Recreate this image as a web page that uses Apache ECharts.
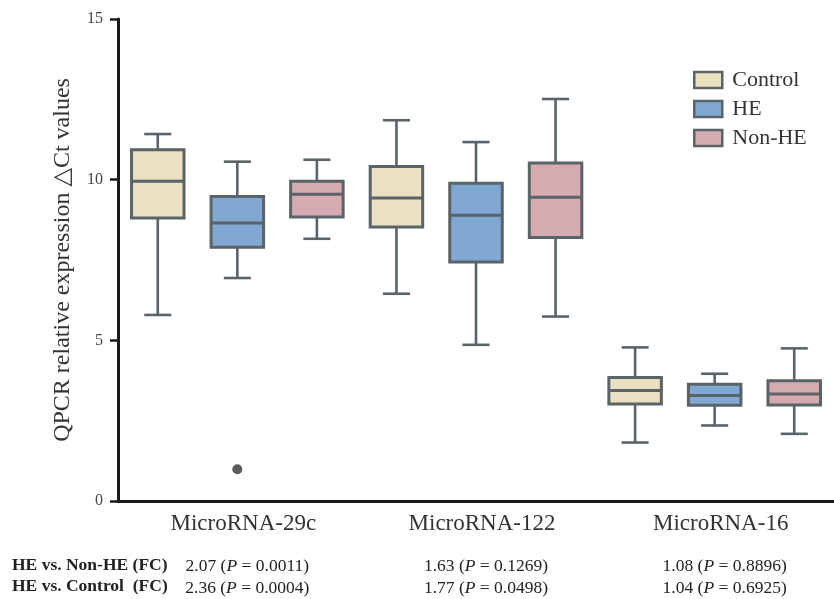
<!DOCTYPE html>
<html>
<head>
<meta charset="utf-8">
<script src="https://cdn.jsdelivr.net/npm/echarts@6/dist/echarts.min.js"></script>
<style>html,body{margin:0;padding:0;background:#fff}#chart{width:834px;height:599px}</style>
</head>
<body>
<div id="chart"></div>
<script>
// ---- data ----
const groups = ['MicroRNA-29c', 'MicroRNA-122', 'MicroRNA-16'];
const seriesNames = ['Control', 'HE', 'Non-HE'];
// [min, Q1, median, Q3, max] per group
const controlBox = [[5.79, 8.81, 9.95, 10.93, 11.42], [6.45, 8.53, 9.43, 10.41, 11.85], [1.82, 3.02, 3.44, 3.84, 4.78]];
const heBox      = [[6.94, 7.90, 8.65, 9.48, 10.56], [4.86, 7.44, 8.89, 9.89, 11.17], [2.35, 2.98, 3.28, 3.63, 3.96]];
const nonHeBox   = [[8.16, 8.84, 9.55, 9.95, 10.62], [5.74, 8.20, 9.45, 10.52, 12.51], [2.09, 2.99, 3.33, 3.74, 4.75]];
// outliers: [groupIndex, value]
const heOutliers = [[0, 0.99]];
const fcNonHE = ['2.07', '1.63', '1.08'];
const pNonHE = ['0.0011', '0.1269', '0.8896'];
const fcControl = ['2.36', '1.77', '1.04'];
const pControl = ['0.0004', '0.0498', '0.6925'];
const yTicks = { min: 0, max: 15, interval: 5 };
const rowTitles = ['HE vs. Non-HE (FC)', 'HE vs. Control  (FC)'];

// ---- build ----
const colors = ['#e9e1c2', '#80a8d3', '#d6aab1'];
const edge = '#5a6367';
const serif = '"Liberation Serif", "DejaVu Serif", serif';
const nS = seriesNames.length;
const categories = [];
groups.forEach(g => seriesNames.forEach(s => categories.push(g + ' ' + s)));
const boxSets = [controlBox, heBox, nonHeBox];

function renderBox(params, api) {
  const x = api.value(0);
  const lo = api.coord([x, api.value(1)]);
  const q1 = api.coord([x, api.value(2)]);
  const med = api.coord([x, api.value(3)]);
  const q3 = api.coord([x, api.value(4)]);
  const hi = api.coord([x, api.value(5)]);
  const band = api.size([1, 0])[0];
  const bw = band * 0.66, cw = band * 0.34;
  const cx = lo[0];
  const ls = { stroke: edge, lineWidth: 2.6 };
  return {
    type: 'group',
    children: [
      { type: 'line', shape: { x1: cx, y1: hi[1], x2: cx, y2: q3[1] }, style: ls },
      { type: 'line', shape: { x1: cx, y1: q1[1], x2: cx, y2: lo[1] }, style: ls },
      { type: 'line', shape: { x1: cx - cw / 2, y1: hi[1], x2: cx + cw / 2, y2: hi[1] }, style: ls },
      { type: 'line', shape: { x1: cx - cw / 2, y1: lo[1], x2: cx + cw / 2, y2: lo[1] }, style: ls },
      { type: 'rect', shape: { x: cx - bw / 2, y: q3[1], width: bw, height: q1[1] - q3[1] },
        style: { fill: api.visual('color'), stroke: edge, lineWidth: 3 } },
      { type: 'line', shape: { x1: cx - bw / 2, y1: med[1], x2: cx + bw / 2, y2: med[1] }, style: { stroke: edge, lineWidth: 3 } }
    ]
  };
}

const series = seriesNames.map((name, si) => ({
  name: name,
  type: 'custom',
  renderItem: renderBox,
  itemStyle: { color: colors[si] },
  encode: { x: 0, y: [1, 2, 3, 4, 5] },
  data: boxSets[si].map((b, gi) => [gi * nS + si].concat(b)),
  z: 2
}));
series.push({
  name: 'HE outliers',
  type: 'scatter',
  symbol: 'circle',
  symbolSize: 10,
  itemStyle: { color: '#333' },
  data: heOutliers.map(o => [o[0] * nS + 1, o[1]]),
  z: 3
});

function rowAxis(fc, p, offset) {
  return {
    type: 'category', data: categories, position: 'bottom', offset: offset,
    gridIndex: 0,
    axisLine: { show: false }, axisTick: { show: false }, splitLine: { show: false },
    axisLabel: {
      interval: 0, margin: 0, color: '#222', fontFamily: serif, fontSize: 17.5,
      padding: [0, 0, 0, 20],
      formatter: (v, i) => {
        if (i % nS !== 1) return '';
        const g = (i - 1) / nS;
        return '{n|' + fc[g] + ' (}{i|P}{n| = ' + p[g] + ')}';
      },
      rich: {
        n: { fontFamily: serif, fontSize: 17.5, color: '#222' },
        i: { fontFamily: serif, fontSize: 17.5, fontStyle: 'italic', color: '#222' }
      }
    }
  };
}

const option = {
  backgroundColor: '#fff',
  animation: false,
  grid: { left: 118, top: 19, bottom: 98, right: -4, containLabel: false },
  legend: {
    orient: 'vertical', left: 688, top: 64,
    itemWidth: 28, itemHeight: 16, itemGap: 7,
    icon: 'rect',
    textStyle: { fontFamily: serif, fontSize: 22, color: '#333', padding: [0, 0, 0, 5] },
    data: seriesNames.map((n, i) => ({ name: n, itemStyle: { color: colors[i], borderColor: edge, borderWidth: 2.5 } }))
  },
  xAxis: [
    {
      type: 'category', data: categories, boundaryGap: true,
      axisLine: { lineStyle: { color: '#1a1a1a', width: 3 } },
      axisTick: { alignWithLabel: true, length: 5, lineStyle: { color: '#1a1a1a', width: 2.5 } },
      axisLabel: {
        interval: 0, margin: 11, color: '#333', fontFamily: serif, fontSize: 23,
        padding: [0, 0, 0, 12],
        formatter: (v, i) => (i % nS === 1 ? groups[(i - 1) / nS] : '')
      },
      splitLine: { show: false }
    },
    rowAxis(fcNonHE, pNonHE, 56),
    rowAxis(fcControl, pControl, 78)
  ],
  yAxis: {
    type: 'value', min: yTicks.min, max: yTicks.max, interval: yTicks.interval,
    name: 'QPCR relative expression \u25B3Ct values',
    nameLocation: 'middle', nameGap: 43,
    nameTextStyle: { fontFamily: serif, fontSize: 24, color: '#333' },
    axisLine: { show: true, lineStyle: { color: '#1a1a1a', width: 3 } },
    axisTick: { show: true, length: 8, lineStyle: { color: '#1a1a1a', width: 2.5 } },
    axisLabel: { margin: 15, fontFamily: serif, fontSize: 16, color: '#444' },
    splitLine: { show: false }
  },
  graphic: rowTitles.map((t, i) => ({
    type: 'text', left: 12, top: 556 + i * 21,
    style: { text: t, fontFamily: serif, fontSize: 17.5, fontWeight: 'bold', fill: '#222' }
  })),
  series: series
};

const chart = echarts.init(document.getElementById('chart'), null, { renderer: 'canvas' });
chart.setOption(option);
</script>
</body>
</html>
